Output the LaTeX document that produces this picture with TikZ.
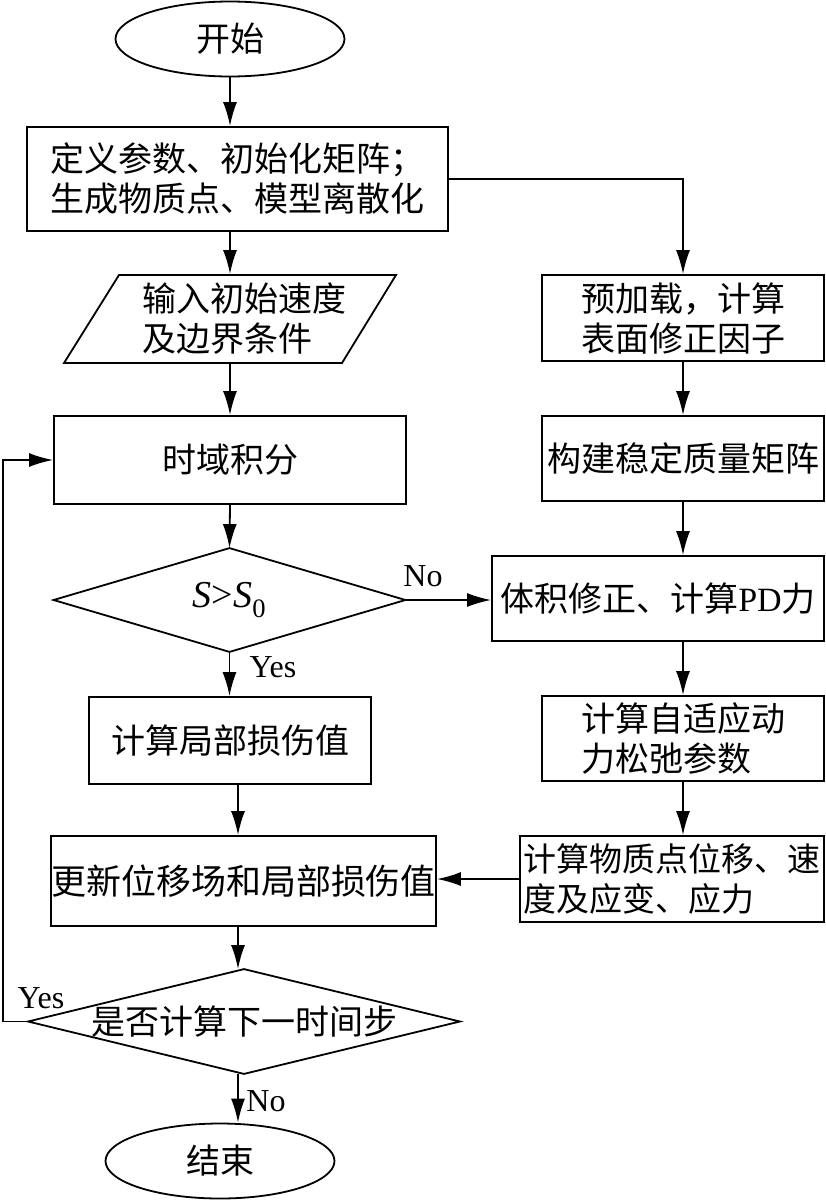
\documentclass[tikz,border=0pt]{standalone}
\usepackage{fontspec}
\setmainfont{Liberation Serif}
\newfontfamily\cjk{Noto Sans CJK SC}
\usetikzlibrary{arrows.meta,shapes.geometric}
\begin{document}
\begin{tikzpicture}[x=1pt,y=-1pt,
  line width=1.8pt,
  arr/.style={-{Latex[length=24pt,width=14pt]}},
  box/.style={draw,rectangle,inner sep=0pt,align=center,font=\cjk\fontsize{34}{40}\selectfont},
  term/.style={draw,ellipse,inner sep=0pt,minimum width=229pt,minimum height=75pt,font=\cjk\fontsize{34}{40}\selectfont},
  ghost/.style={rectangle,inner sep=0pt,align=center,font=\cjk\fontsize{34}{40}\selectfont},
  lab/.style={font=\fontsize{32}{34}\selectfont,inner sep=0pt}]
\useasboundingbox (0,0) rectangle (825,1202);
% columns
\coordinate (colA) at (230,0);
\coordinate (colB) at (238,0);
\coordinate (colR) at (683,0);
\coordinate (loopx) at (3,0);
% left column
\node[term] (start) at (230,39) {开始};
\node[box,minimum width=421pt,minimum height=104pt] (init) at (237.5,179) {定义参数、初始化矩阵；\\生成物质点、模型离散化};
\node[ghost,align=left,minimum width=277pt,minimum height=88pt] (para) at (244,319) {输入初始速度\\及边界条件};
\draw (119,275) -- (396,275) -- (342,363) -- (64,363) -- cycle;
\node[box,minimum width=352pt,minimum height=88pt] (time) at (230,460) {时域积分};
\node[ghost,minimum width=350pt,minimum height=102pt] (d1) at (229.5,600) {\rmfamily\fontsize{38}{40}\selectfont\textit{S}>\textit{S}\textsubscript{0}};
\draw (d1.north) -- (d1.east) -- (d1.south) -- (d1.west) -- cycle;
\node[box,minimum width=282pt,minimum height=87pt] (dmg) at (230,740.5) {计算局部损伤值};
\node[box,minimum width=379pt,minimum height=90pt,font=\cjk\fontsize{35}{40}\selectfont] (upd) at (243.5,881) {更新位移场和局部损伤值};
\node[ghost,minimum width=430pt,minimum height=103pt] (d2) at (244,1021.5) {是否计算下一时间步};
\draw (d2.north) -- (d2.east) -- (d2.south) -- (d2.west) -- cycle;
\node[term] (end) at (220,1161) {结束};
% right column
\node[box,minimum width=282pt,minimum height=86pt] (pre) at (683,318) {预加载，计算\\表面修正因子};
\node[box,minimum width=282pt,minimum height=85pt] (mass) at (683,458.5) {构建稳定质量矩阵};
\node[box,minimum width=332pt,minimum height=85pt] (vol) at (658,598.5) {体积修正、计算{\rmfamily PD}力};
\node[box,align=left,minimum width=282pt,minimum height=85pt] (adr) at (683,738.5) {计算自适应动\\力松弛参数};
\node[box,align=left,minimum width=304pt,minimum height=86pt,font=\cjk\fontsize{33}{40}\selectfont] (calc) at (672,879) {计算物质点位移、速\\度及应变、应力};
% connectors
\draw[arr] (start.south) -- (init.north -| start.south);
\draw[arr] (init.south -| colA) -- (para.north -| colA);
\draw[arr] (para.south -| colA) -- (time.north -| colA);
\draw[arr] (time.south -| colA) -- (d1.north);
\draw[arr] (d1.south) -- (dmg.north -| d1.south);
\draw[arr] (dmg.south -| colB) -- (upd.north -| colB);
\draw[arr] (upd.south -| colB) -- (d2.north -| colB);
\draw[arr] (d2.south -| colB) -- (end.north -| colB);
\draw[arr] (d2.west) -- (d2.west -| loopx) |- (time.west);
\draw[arr] (init.east) -| (pre.north);
\draw[arr] (pre.south) -- (mass.north);
\draw[arr] (mass.south) -- (vol.north -| colR);
\draw[arr] (vol.south -| colR) -- (adr.north);
\draw[arr] (adr.south) -- (calc.north -| colR);
\draw[arr] (calc.west) -- (calc.west -| upd.east);
\draw[arr] (d1.east) -- (d1.east -| vol.west);
% labels
\node[lab] (lno1) at (423,576) {No};
\node[lab] (lyes1) at (273,667) {Yes};
\node[lab] (lyes2) at (41,998) {Yes};
\node[lab] (lno2) at (266,1101) {No};
\end{tikzpicture}
\end{document}
